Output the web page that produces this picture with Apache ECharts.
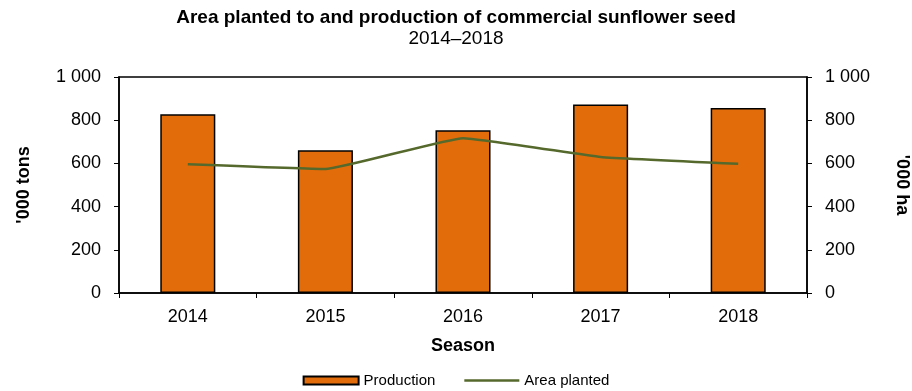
<!DOCTYPE html>
<html>
<head>
<meta charset="utf-8">
<script src="https://cdn.jsdelivr.net/npm/echarts@6/dist/echarts.min.js"></script>
<style>
  html, body { margin: 0; padding: 0; background: #fff; }
  #chart { width: 912px; height: 391px; }
</style>
</head>
<body>
<div id="chart"></div>
<script>
// Commercial sunflower seed, seasons 2014–2018
const seasons = ['2014', '2015', '2016', '2017', '2018'];
const production = [828, 661, 754, 873, 856];   // '000 tons
const areaPlanted = [596, 574, 717, 630, 598];  // '000 ha
const axisTicks = [0, 200, 400, 600, 800, 1000];

const fontFamily = 'Liberation Sans, Arial, sans-serif';
const fmt = v => v >= 1000 ? String(v).replace(/\B(?=(\d{3})+(?!\d))/g, ' ') : String(v);

const chart = echarts.init(document.getElementById('chart'));

const valueAxis = (pos) => ({
  type: 'value',
  position: pos,
  min: axisTicks[0],
  max: axisTicks[axisTicks.length - 1],
  interval: axisTicks[1] - axisTicks[0],
  name: pos === 'left' ? "'000 tons" : "'000 ha",
  nameLocation: 'middle',
  nameRotate: pos === 'left' ? 90 : -90,
  nameGap: pos === 'left' ? 86 : 86,
  nameTextStyle: { fontFamily, fontSize: 18, fontWeight: 'bold', color: '#000' },
  axisLine: { show: true, lineStyle: { color: '#000', width: 1.5 } },
  axisTick: { show: true, length: 5, lineStyle: { color: '#000', width: 1 } },
  axisLabel: { fontFamily, fontSize: 18, color: '#000', margin: 18, formatter: fmt },
  splitLine: { show: false }
});

chart.setOption({
  animation: false,
  backgroundColor: '#fff',
  title: [
    {
      text: 'Area planted to and production of commercial sunflower seed',
      left: 'center', top: 3,
      textStyle: { fontFamily, fontSize: 19, fontWeight: 'bold', color: '#000' }
    },
    {
      text: '2014–2018',
      left: 'center', top: 24,
      textStyle: { fontFamily, fontSize: 19, fontWeight: 'normal', color: '#000' }
    }
  ],
  legend: {
    bottom: 3,
    padding: [0, 5],
    left: 'center',
    itemGap: 29,
    itemWidth: 55,
    itemHeight: 8,
    textStyle: { fontFamily, fontSize: 15, color: '#000' },
    data: [
      { name: 'Production', icon: 'rect' },
      { name: 'Area planted', icon: 'path://M0,0H55V2.5H0Z' }
    ]
  },
  grid: {
    left: 119, right: 105, top: 77, bottom: 98,
    outerBoundsMode: 'none',
    containLabel: false,
    show: true, borderColor: '#000', borderWidth: 1.5
  },
  xAxis: {
    type: 'category',
    data: seasons,
    name: 'Season',
    nameLocation: 'middle',
    nameGap: 44,
    nameTextStyle: { fontFamily, fontSize: 18, fontWeight: 'bold', color: '#000' },
    axisLine: { show: true, lineStyle: { color: '#000', width: 1.5 } },
    axisTick: { show: true, length: 5, alignWithLabel: false, lineStyle: { color: '#000', width: 1 } },
    axisLabel: { fontFamily, fontSize: 18, color: '#000', margin: 15 }
  },
  yAxis: [valueAxis('left'), valueAxis('right')],
  series: [
    {
      name: 'Production',
      type: 'bar',
      yAxisIndex: 0,
      data: production,
      barWidth: '40%',
      itemStyle: { color: '#E36C0A', borderColor: '#000', borderWidth: 1.5 }
    },
    {
      name: 'Area planted',
      type: 'line',
      yAxisIndex: 1,
      data: areaPlanted,
      smooth: 0.1,
      symbol: 'none',
      lineStyle: { color: '#56692C', width: 2.5 },
      itemStyle: { color: '#56692C' }
    }
  ]
});
</script>
</body>
</html>
